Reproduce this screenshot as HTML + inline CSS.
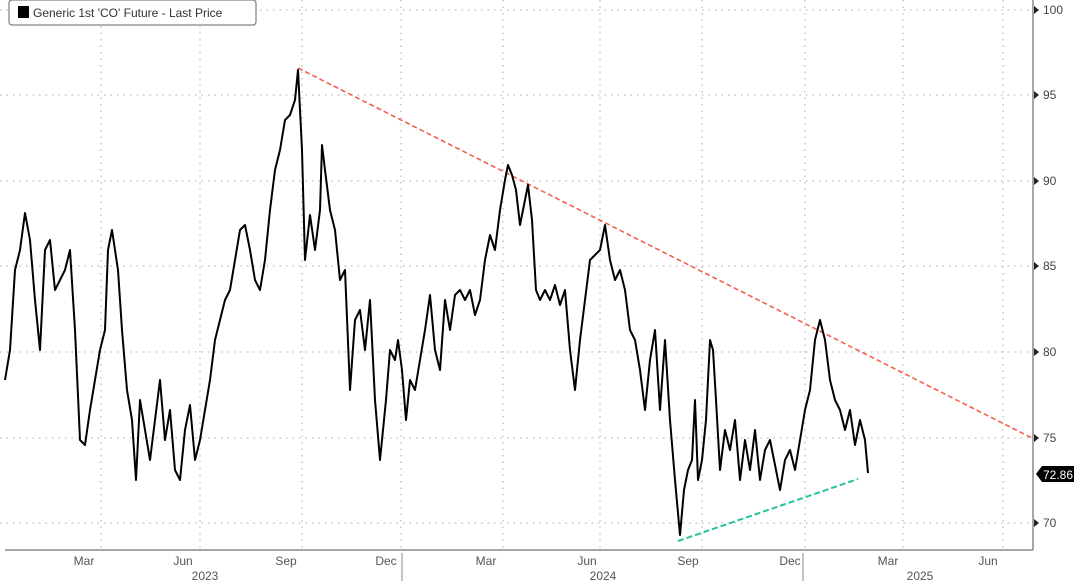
<!DOCTYPE html>
<html><head><style>
body{margin:0;background:#fff;}
svg{display:block;font-family:"Liberation Sans",sans-serif;}
</style></head><body>
<svg width="1074" height="581" viewBox="0 0 1074 581">
<g stroke="#bbb" stroke-dasharray="1.5,5" stroke-width="1.2">
<line x1="0" y1="10" x2="1032" y2="10"/>
<line x1="0" y1="95" x2="1032" y2="95"/>
<line x1="0" y1="181" x2="1032" y2="181"/>
<line x1="0" y1="266" x2="1032" y2="266"/>
<line x1="0" y1="352" x2="1032" y2="352"/>
<line x1="0" y1="438" x2="1032" y2="438"/>
<line x1="0" y1="523" x2="1032" y2="523"/>
<line x1="101" y1="0" x2="101" y2="550"/><line x1="200" y1="0" x2="200" y2="550"/>
<line x1="302" y1="0" x2="302" y2="550"/><line x1="401" y1="0" x2="401" y2="550"/>
<line x1="503" y1="0" x2="503" y2="550"/><line x1="600" y1="0" x2="600" y2="550"/>
<line x1="702" y1="0" x2="702" y2="550"/><line x1="805" y1="0" x2="805" y2="550"/>
<line x1="903" y1="0" x2="903" y2="550"/><line x1="1003" y1="0" x2="1003" y2="550"/>
</g>
<line x1="5" y1="550" x2="1033" y2="550" stroke="#888" stroke-width="1.5"/>
<line x1="1033" y1="0" x2="1033" y2="550" stroke="#888" stroke-width="1.5"/>
<g stroke="#888"><line x1="402" y1="553" x2="402" y2="581"/><line x1="803" y1="553" x2="803" y2="581"/></g>
<g fill="#555" font-size="12" text-anchor="middle">
<text x="84" y="565">Mar</text><text x="183" y="565">Jun</text><text x="286" y="565">Sep</text><text x="386" y="565">Dec</text>
<text x="486" y="565">Mar</text><text x="587" y="565">Jun</text><text x="688" y="565">Sep</text><text x="790" y="565">Dec</text>
<text x="888" y="565">Mar</text><text x="988" y="565">Jun</text>
<text x="205" y="580">2023</text><text x="603" y="580">2024</text><text x="920" y="580">2025</text>
</g>
<g fill="#444" font-size="12">
<text x="1043" y="14">100</text><text x="1043" y="99">95</text><text x="1043" y="185">90</text>
<text x="1043" y="270">85</text><text x="1043" y="356">80</text><text x="1043" y="442">75</text><text x="1043" y="527">70</text>
</g>
<g fill="#222"><path d="M1034,6l5,4l-5,4z"/><path d="M1034,91l5,4l-5,4z"/><path d="M1034,177l5,4l-5,4z"/><path d="M1034,262l5,4l-5,4z"/><path d="M1034,348l5,4l-5,4z"/><path d="M1034,434l5,4l-5,4z"/><path d="M1034,519l5,4l-5,4z"/></g>
<path d="M1036,474l6,-8h32v16h-32z" fill="#000"/>
<text x="1043" y="479" fill="#fff" font-size="12">72.86</text>
<line x1="298" y1="68" x2="1032" y2="438" stroke="#f4604f" stroke-width="1.6" stroke-dasharray="5,3"/>
<line x1="678" y1="541" x2="858" y2="479" stroke="#22c4a0" stroke-width="2" stroke-dasharray="6,3"/>
<polyline fill="none" stroke="#000" stroke-width="2" stroke-linejoin="round" points="5,380 10,350 15,270 20,250 25,213 30,240 35,300 40,350 45,250 50,240 55,290 60,280 65,270 70,250 75,330 80,440 85,445 90,410 95,380 100,350 105,330 108,250 112,230 118,270 122,330 127,390 132,420 136,480 140,400 145,430 150,460 155,420 160,380 165,440 170,410 175,470 180,480 185,430 190,405 195,460 200,440 205,410 210,380 215,340 220,320 225,300 230,290 235,260 240,230 245,225 250,250 255,280 260,290 265,260 270,210 275,170 280,150 285,120 290,115 295,100 298,70 302,150 305,260 310,215 315,250 320,210 322,145 325,170 330,210 335,230 340,280 345,270 350,390 355,320 360,310 365,350 370,300 375,400 380,460 383,430 386,400 390,350 395,360 398,340 402,370 406,420 410,380 415,390 420,360 425,330 430,295 435,350 440,370 445,300 450,330 455,295 460,290 465,300 470,290 475,315 480,300 485,260 490,235 495,250 500,210 505,180 508,165 512,175 516,190 520,225 525,200 528,185 532,220 536,290 540,300 545,290 550,300 555,285 560,305 565,290 570,350 575,390 580,340 585,300 590,260 595,255 600,250 605,225 610,260 615,280 620,270 625,290 630,330 635,340 640,370 645,410 650,360 655,330 660,410 665,340 670,420 675,480 680,535 684,490 688,470 692,460 695,400 698,480 702,460 706,420 710,340 713,350 716,400 720,470 725,430 730,450 735,420 740,480 745,440 750,470 755,430 760,480 765,450 770,440 775,465 780,490 785,460 790,450 795,470 800,440 805,410 810,390 815,340 820,320 825,340 830,380 835,400 840,410 845,430 850,410 855,445 860,420 865,440 868,473"/>
<rect x="9" y="0" width="247" height="25" rx="3" fill="#fff" stroke="#666"/>
<rect x="18" y="6" width="11" height="12" fill="#000"/>
<text x="33" y="17" font-size="12" fill="#333">Generic 1st 'CO' Future - Last Price</text>
</svg>
</body></html>
